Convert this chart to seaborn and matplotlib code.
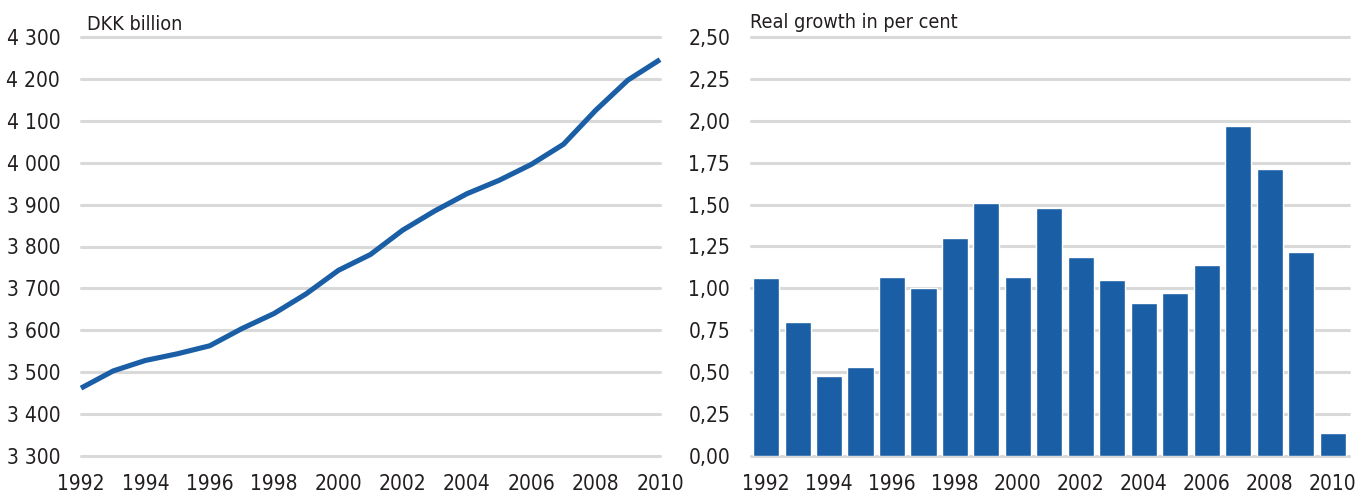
import matplotlib
matplotlib.use("Agg")
import matplotlib.pyplot as plt
import seaborn as sns
import pandas as pd
from matplotlib import font_manager

years = list(range(1992, 2011))
gdp_level = [3462, 3503, 3528, 3544, 3563, 3604, 3640, 3687, 3743, 3781,
             3839, 3885, 3926, 3958, 3996, 4044, 4125, 4197, 4246]
real_growth = [1.06, 0.80, 0.48, 0.53, 1.07, 1.00, 1.30, 1.51, 1.07, 1.48,
               1.19, 1.05, 0.91, 0.97, 1.14, 1.97, 1.71, 1.22, 0.135]
left_yticks = [3300, 3400, 3500, 3600, 3700, 3800, 3900, 4000, 4100, 4200, 4300]
left_ylabels = ["3 300", "3 400", "3 500", "3 600", "3 700", "3 800", "3 900",
                "4 000", "4 100", "4 200", "4 300"]
right_yticks = [0, 0.25, 0.5, 0.75, 1.0, 1.25, 1.5, 1.75, 2.0, 2.25, 2.5]
right_ylabels = ["0,00", "0,25", "0,50", "0,75", "1,00", "1,25", "1,50",
                 "1,75", "2,00", "2,25", "2,50"]
left_title = "DKK billion"
right_title = "Real growth in per cent"

sns.set_theme(style="white")
entries = font_manager.fontManager.ttflist
names = {f.name for f in entries}
stretch = "normal"
if "Liberation Sans Narrow" in names:
    fam = "Liberation Sans Narrow"
elif any(f.name == "DejaVu Sans" and f.stretch == "condensed" for f in entries):
    fam = "DejaVu Sans"
    stretch = "condensed"
else:
    fam = "Roboto" if "Roboto" in names else "Liberation Sans"
plt.rcParams["font.family"] = [fam, "DejaVu Sans"]
plt.rcParams["font.stretch"] = stretch

blue = "#1a5ea5"
grid = "#d9d9d9"
txt = "#231f20"
fs = 15

W, H = 1367, 495
fig = plt.figure(figsize=(W / 100, H / 100), dpi=100)
ax1 = fig.add_axes([81 / W, 1 - 456 / H, (660 - 81) / W, (456 - 37) / H])
ax2 = fig.add_axes([751 / W, 1 - 456 / H, (1349 - 751) / W, (456 - 37) / H])

df1 = pd.DataFrame({"year": years, "value": gdp_level})
sns.lineplot(data=df1, x="year", y="value", ax=ax1, color=blue, linewidth=3.7,
             solid_capstyle="butt", zorder=3, clip_on=False)
ax1.set_xlim(1992, 2010)
ax1.set_ylim(3300, 4300)
ax1.set_yticks(left_yticks)
ax1.set_yticklabels(left_ylabels)
ax1.set_xticks(years[::2])
ax1.set_xticklabels([str(y) for y in years[::2]])

df2 = pd.DataFrame({"year": [str(y) for y in years], "value": real_growth})
sns.barplot(data=df2, x="year", y="value", ax=ax2, color=blue, saturation=1,
            width=0.83, zorder=3)
ax2.set_xlim(-0.48, 18.52)
ax2.set_ylim(0, 2.5)
ax2.set_yticks(right_yticks)
ax2.set_yticklabels(right_ylabels)
ax2.set_xticks(range(0, 19, 2))
ax2.set_xticklabels([str(y) for y in years[::2]])

for ax in (ax1, ax2):
    ax.set_xlabel("")
    ax.set_ylabel("")
    for s in ax.spines.values():
        s.set_visible(False)
    ax.yaxis.grid(True, color=grid, linewidth=2.2, zorder=0)
    ax.xaxis.grid(False)
    ax.set_axisbelow(True)
    for gl in ax.get_ygridlines():
        gl.set_clip_on(False)
    ax.tick_params(axis="both", length=0, labelsize=fs, colors=txt)
    ax.tick_params(axis="x", pad=13)
    ax.tick_params(axis="y", pad=15)

fig.text(87 / W, 1 - 24 / H, left_title, fontsize=14.2, color=txt,
         va="center", ha="left")
fig.text(750 / W, 1 - 23 / H, right_title, fontsize=14.2, color=txt,
         va="center", ha="left")

fig.savefig("out.png", dpi=100, facecolor="white")
